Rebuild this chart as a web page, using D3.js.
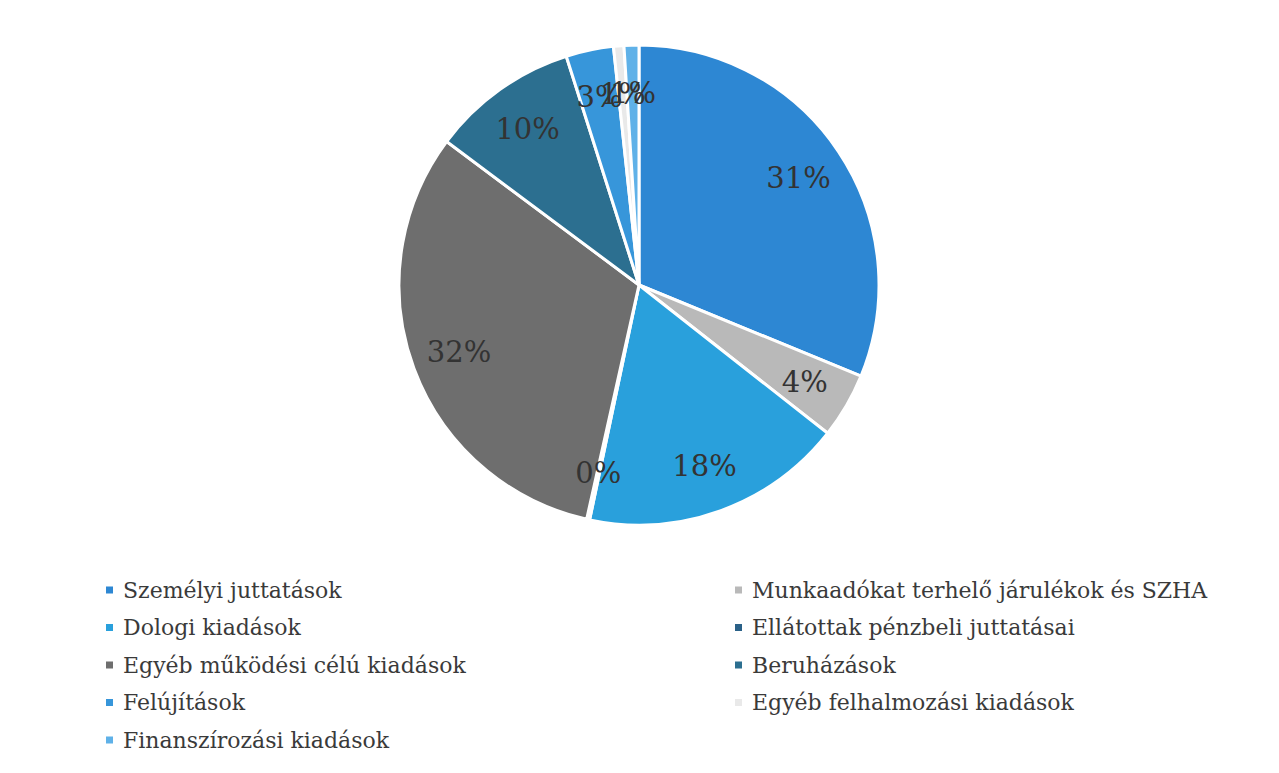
<!DOCTYPE html>
<html>
<head>
<meta charset="utf-8">
<script src="https://cdn.jsdelivr.net/npm/d3@7"></script>
<style>
  body { margin: 0; background: #fff; }
</style>
</head>
<body>
<div id="chart"></div>
<script>
// categories in drawing order (clockwise from 12 o'clock)
const categories = [
  'Személyi juttatások',
  'Munkaadókat terhelő járulékok és SZHA',
  'Dologi kiadások',
  'Ellátottak pénzbeli juttatásai',
  'Egyéb működési célú kiadások',
  'Beruházások',
  'Felújítások',
  'Egyéb felhalmozási kiadások',
  'Finanszírozási kiadások'
];
// share of total, percent
const values = [31.2, 4.4, 17.7, 0.2, 31.7, 9.9, 3.2, 0.7, 1.0];
const colors = ['#2d87d3', '#b9b9b9', '#29a0dc', '#2a6188', '#6e6e6e', '#2c6f90', '#3796da', '#e9e9e9', '#5fb1e8'];
// legend reads row by row, two columns
const legendOrder = [0, 1, 2, 3, 4, 5, 6, 7, 8];

const serif = '"DejaVu Serif", serif';

const width = 1279, height = 773;
const cx = 639, cy = 285, radius = 240;

const svg = d3.select('#chart').append('svg')
    .attr('width', width)
    .attr('height', height);

const data = categories.map((c, i) => ({name: c, value: values[i], color: colors[i]}));

const pie = d3.pie()
    .sort(null)
    .value(d => d.value);

const arc = d3.arc()
    .innerRadius(0)
    .outerRadius(radius);

const labelArc = d3.arc()
    .innerRadius(radius * 0.8)
    .outerRadius(radius * 0.8);

const total = d3.sum(values);

const chart = svg.append('g')
    .attr('transform', `translate(${cx},${cy})`);

const arcs = pie(data);

chart.selectAll('.slice')
    .data(arcs)
  .join('path')
    .attr('class', 'slice')
    .attr('d', arc)
    .attr('fill', d => d.data.color)
    .attr('stroke', '#fff')
    .attr('stroke-width', 3)
    .attr('stroke-linejoin', 'round');

chart.selectAll('.slice-label')
    .data(arcs)
  .join('text')
    .attr('class', 'slice-label')
    .attr('transform', d => `translate(${labelArc.centroid(d)})`)
    .attr('text-anchor', 'middle')
    .attr('dy', '0.35em')
    .attr('font-family', serif)
    .attr('font-size', 29)
    .attr('fill', '#333')
    .text(d => Math.round(d.data.value / total * 100) + '%');

// Legend
const legendX = [106, 735];
const legendY0 = 590, legendStep = 37.5;

const legend = svg.append('g');

const item = legend.selectAll('.legend-item')
    .data(legendOrder)
  .join('g')
    .attr('class', 'legend-item')
    .attr('transform', (d, i) => `translate(${legendX[i % 2]},${legendY0 + Math.floor(i / 2) * legendStep})`);

item.append('rect')
    .attr('x', 0)
    .attr('y', -3.5)
    .attr('width', 7)
    .attr('height', 7)
    .attr('fill', d => colors[d]);

item.append('text')
    .attr('x', 17)
    .attr('dy', '0.35em')
    .attr('font-family', serif)
    .attr('font-size', 22)
    .attr('fill', '#3a3a3a')
    .text(d => categories[d]);
</script>
</body>
</html>
